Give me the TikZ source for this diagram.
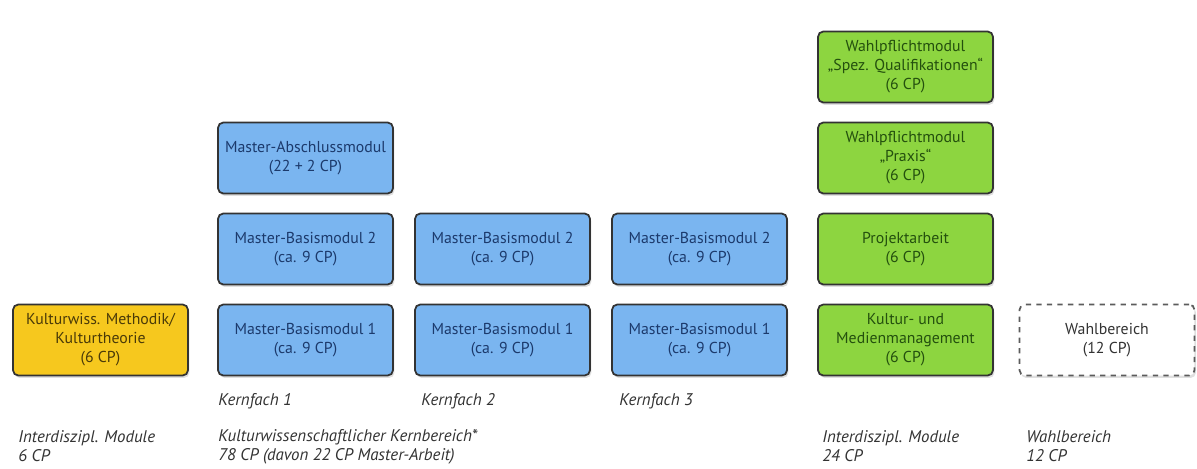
\documentclass[tikz,border=0pt]{standalone}
\usepackage{fontspec}
\setmainfont{PT Sans}
\usepackage{tikz}
\usetikzlibrary{shadows}
\definecolor{yellowfill}{HTML}{F6C81E}
\definecolor{yellowtext}{HTML}{4A3A08}
\definecolor{bluefill}{HTML}{7AB5F0}
\definecolor{bluetext}{HTML}{1C3A6C}
\definecolor{greenfill}{HTML}{8DD540}
\definecolor{greentext}{HTML}{24500E}
\definecolor{boxline}{HTML}{333333}
\definecolor{labeltext}{HTML}{333333}

\begin{document}
\begin{tikzpicture}[x=0.02cm, y=-0.02cm,
  module/.style={draw=boxline, line width=1pt, rounded corners=3pt, minimum width=3.5cm,
    minimum height=1.42cm, align=center, font=\fontsize{9}{10.8}\selectfont,
    drop shadow={shadow xshift=0.8pt, shadow yshift=-1.4pt, opacity=0.25}},
  yellowbox/.style={module, fill=yellowfill, text=yellowtext},
  bluebox/.style={module, fill=bluefill, text=bluetext},
  greenbox/.style={module, fill=greenfill, text=greentext},
  optbox/.style={module, fill=white, dashed, draw=boxline!80, text=black!80},
  caption/.style={anchor=west, align=left, inner sep=0pt, text=labeltext,
    font=\fontsize{9.6}{10.8}\selectfont\itshape}]
\useasboundingbox (0,0) rectangle (1197,468);

% interdisciplinary module (left)
\node[yellowbox] (methodik) at (100.5,340) {Kulturwiss. Methodik/\\Kulturtheorie\\(6 CP)};

% Kernfach 1
\node[bluebox] (basisA1) at (305.5,340) {Master-Basismodul 1\\(ca. 9 CP)};
\node[bluebox] (basisA2) at (305.5,249) {Master-Basismodul 2\\(ca. 9 CP)};
\node[bluebox] (abschluss) at (305.5,158) {Master-Abschlussmodul\\(22 + 2 CP)};
% Kernfach 2
\node[bluebox] (basisB1) at (502.5,340) {Master-Basismodul 1\\(ca. 9 CP)};
\node[bluebox] (basisB2) at (502.5,249) {Master-Basismodul 2\\(ca. 9 CP)};
% Kernfach 3
\node[bluebox] (basisC1) at (699.5,340) {Master-Basismodul 1\\(ca. 9 CP)};
\node[bluebox] (basisC2) at (699.5,249) {Master-Basismodul 2\\(ca. 9 CP)};

% interdisciplinary modules (right)
\node[greenbox] (management) at (905.5,340) {Kultur- und\\Medienmanagement\\(6 CP)};
\node[greenbox] (projekt) at (905.5,249) {Projektarbeit\\(6 CP)};
\node[greenbox] (praxis) at (905.5,158) {Wahlpflichtmodul\\„Praxis“\\(6 CP)};
\node[greenbox] (spez) at (905.5,67) {Wahlpflichtmodul\\„Spez. Qualifikationen“\\(6 CP)};

% elective
\node[optbox] (wahl) at (1107,340) {Wahlbereich\\(12 CP)};

% captions
\node[caption] (kernA) at (218,401) {Kernfach 1};
\node[caption] (kernB) at (421,401) {Kernfach 2};
\node[caption] (kernC) at (619,401) {Kernfach 3};
\node[caption] (capInterA) at (18,446.5) {Interdiszipl. Module\\6 CP};
\node[caption] (capKern) at (218,446.5) {Kulturwissenschaftlicher Kernbereich*\\78 CP (davon 22 CP Master-Arbeit)};
\node[caption] (capInterB) at (822,446.5) {Interdiszipl. Module\\24 CP};
\node[caption] (capWahl) at (1026,446.5) {Wahlbereich\\12 CP};

\end{tikzpicture}
\end{document}
